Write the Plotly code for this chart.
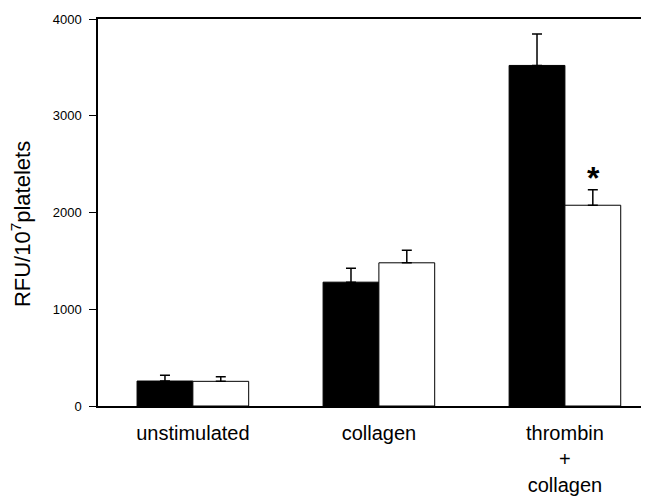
import plotly.graph_objects as go

categories = ["unstimulated", "collagen", "thrombin<br>+<br>collagen"]
black_values = [258, 1280, 3520]
black_err = [60, 145, 325]
white_values = [255, 1480, 2075]
white_err = [48, 130, 160]
y_ticks = [0, 1000, 2000, 3000, 4000]

FONT = "Liberation Sans, Arial, Helvetica, sans-serif"

fig = go.Figure()
fig.add_trace(go.Bar(
    x=categories, y=black_values, name="black",
    marker=dict(color="black", line=dict(color="black", width=1)),
    error_y=dict(type="data", array=black_err, arrayminus=[0] * 3, symmetric=False,
                 color="black", thickness=1.5, width=5),
))
fig.add_trace(go.Bar(
    x=categories, y=white_values, name="white",
    marker=dict(color="white", line=dict(color="black", width=1)),
    error_y=dict(type="data", array=white_err, arrayminus=[0] * 3, symmetric=False,
                 color="black", thickness=1.5, width=5),
))

fig.add_annotation(
    x=categories[2], y=white_values[2] + white_err[2], xref="x", yref="y",
    text="<b>*</b>", showarrow=False, xshift=29, yshift=-8, yanchor="bottom",
    font=dict(family=FONT, size=32, color="black"),
)
fig.add_annotation(
    x=0, y=0.47, xref="paper", yref="paper", xshift=-77,
    text="RFU/10<sup>7</sup>platelets", textangle=-90, showarrow=False,
    xanchor="center", yanchor="middle",
    font=dict(family=FONT, size=22, color="black"),
)

# page body has an 8px margin, so the figure is sized/offset to compensate
fig.update_layout(
    width=641, height=488,
    margin=dict(l=90, r=0, t=11, b=85),
    paper_bgcolor="white", plot_bgcolor="white",
    barmode="group", bargap=0.4, bargroupgap=0,
    showlegend=False,
    font=dict(family=FONT, color="black"),
)
fig.update_xaxes(
    range=[-0.51, 2.452], showline=True, mirror=True, linecolor="black", linewidth=1.5,
    ticks="", showgrid=False, zeroline=False, ticklabelstandoff=8,
    tickfont=dict(family=FONT, size=20, color="black"),
)
fig.update_yaxes(
    range=[0, 4000], tickvals=y_ticks, ticktext=[str(v) for v in y_ticks],
    showline=True, linecolor="black", linewidth=1.5,
    ticks="outside", ticklen=7, tickcolor="black", tickwidth=1,
    showgrid=False, zeroline=False, ticklabelstandoff=5,
    tickfont=dict(family=FONT, size=13, color="black"),
)

fig.write_html("out.html")
